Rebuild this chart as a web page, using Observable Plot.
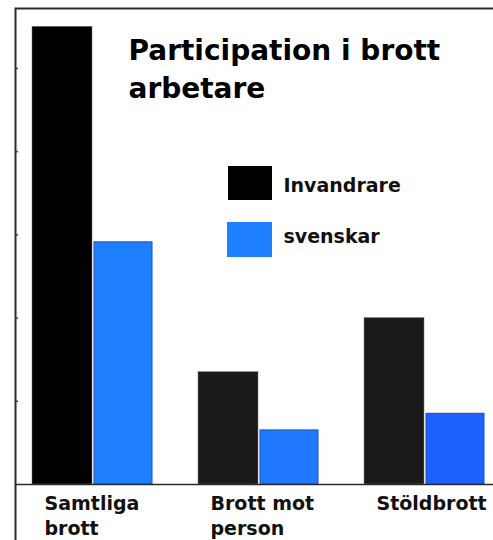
<!DOCTYPE html>
<html>
<head>
<meta charset="utf-8">
<script src="https://cdn.jsdelivr.net/npm/d3@7"></script>
<script src="https://cdn.jsdelivr.net/npm/@observablehq/plot@0.6"></script>
<style>
  html, body { margin: 0; padding: 0; background: #fff; }
  #chart { width: 493px; height: 540px; }
</style>
</head>
<body>
<div id="chart"></div>
<script>
// ---- data (relative units, one y tick = 10) ----
const categories = ["Samtliga brott", "Brott mot person", "Stöldbrott"];
const categoryLabels = ["Samtliga\nbrott", "Brott mot\nperson", "Stöldbrott"];
const series = ["Invandrare", "svenskar"];
const invandrare = [55.0, 13.5, 20.0];
const svenskar = [29.1, 6.5, 8.5];
const yTicks = [10, 20, 30, 40, 50];
const titleText = "Participation i brott\narbetare";

// ---- styles ----
const invandrareColors = ["#000000", "#1a1a1a", "#1a1a1a"];
const svenskarColors = ["#1f80ff", "#1f78ff", "#1d62ff"];
const seriesColors = ["#000000", "#1f80ff"];
const font = "DejaVu Sans";

const rowsInv = categories.map((c, i) => ({category: c, value: invandrare[i], color: invandrareColors[i]}));
const rowsSve = categories.map((c, i) => ({category: c, value: svenskar[i], color: svenskarColors[i]}));

const legendMarks = series.flatMap((s, i) => [
  Plot.rect([s], {
    fill: seriesColors[i],
    insetLeft: 213 - i, insetRight: 221,
    insetTop: 158 + i * 56, insetBottom: 284 - i * 57
  }),
  Plot.text([s], {
    text: d => d, frameAnchor: "top-left", textAnchor: "start", lineAnchor: "middle",
    dx: 268, dy: 177 + i * 51, fontSize: 19, fontWeight: "bold", fill: "#111"
  })
]);

const chart = Plot.plot({
  width: 493,
  height: 540,
  marginLeft: 15,
  marginRight: 0,
  marginTop: 8,
  marginBottom: 56,
  style: {fontFamily: font, background: "#fff"},
  x: {domain: categories, range: [32, 484], paddingInner: 0.28, paddingOuter: 0, axis: null},
  y: {domain: [0, 57.2], axis: null},
  marks: [
    Plot.frame({stroke: "#2a2a2a", strokeWidth: 2, insetBottom: -80, insetRight: -10}),
    Plot.axisY({ticks: yTicks, tickSize: -3, tickFormat: () => "", label: null, stroke: "#444", strokeWidth: 1.5}),
    Plot.barY(rowsInv, {x: "category", y: "value", fill: "color", insetLeft: 0, insetRight: 60, stroke: "#777", strokeWidth: 0.5}),
    Plot.barY(rowsSve, {x: "category", y: "value", fill: "color", insetLeft: 62, insetRight: 0, stroke: "#1d4fb8", strokeWidth: 1}),
    Plot.ruleY([0], {stroke: "#2a2a2a", strokeWidth: 1.5}),
    Plot.text(categories, {
      x: d => d, text: (d, i) => categoryLabels[i],
      frameAnchor: "bottom", textAnchor: "start", lineAnchor: "top",
      dx: -48, dy: 8, fontSize: 19, fontWeight: "bold", lineHeight: 1.3, fill: "#111"
    }),
    Plot.text([titleText], {
      text: d => d, frameAnchor: "top-left", textAnchor: "start", lineAnchor: "top",
      dx: 113, dy: 24, fontSize: 28, fontWeight: "bold", lineHeight: 1.36, fill: "#000"
    }),
    ...legendMarks
  ]
});

document.getElementById("chart").appendChild(chart);
</script>
</body>
</html>
